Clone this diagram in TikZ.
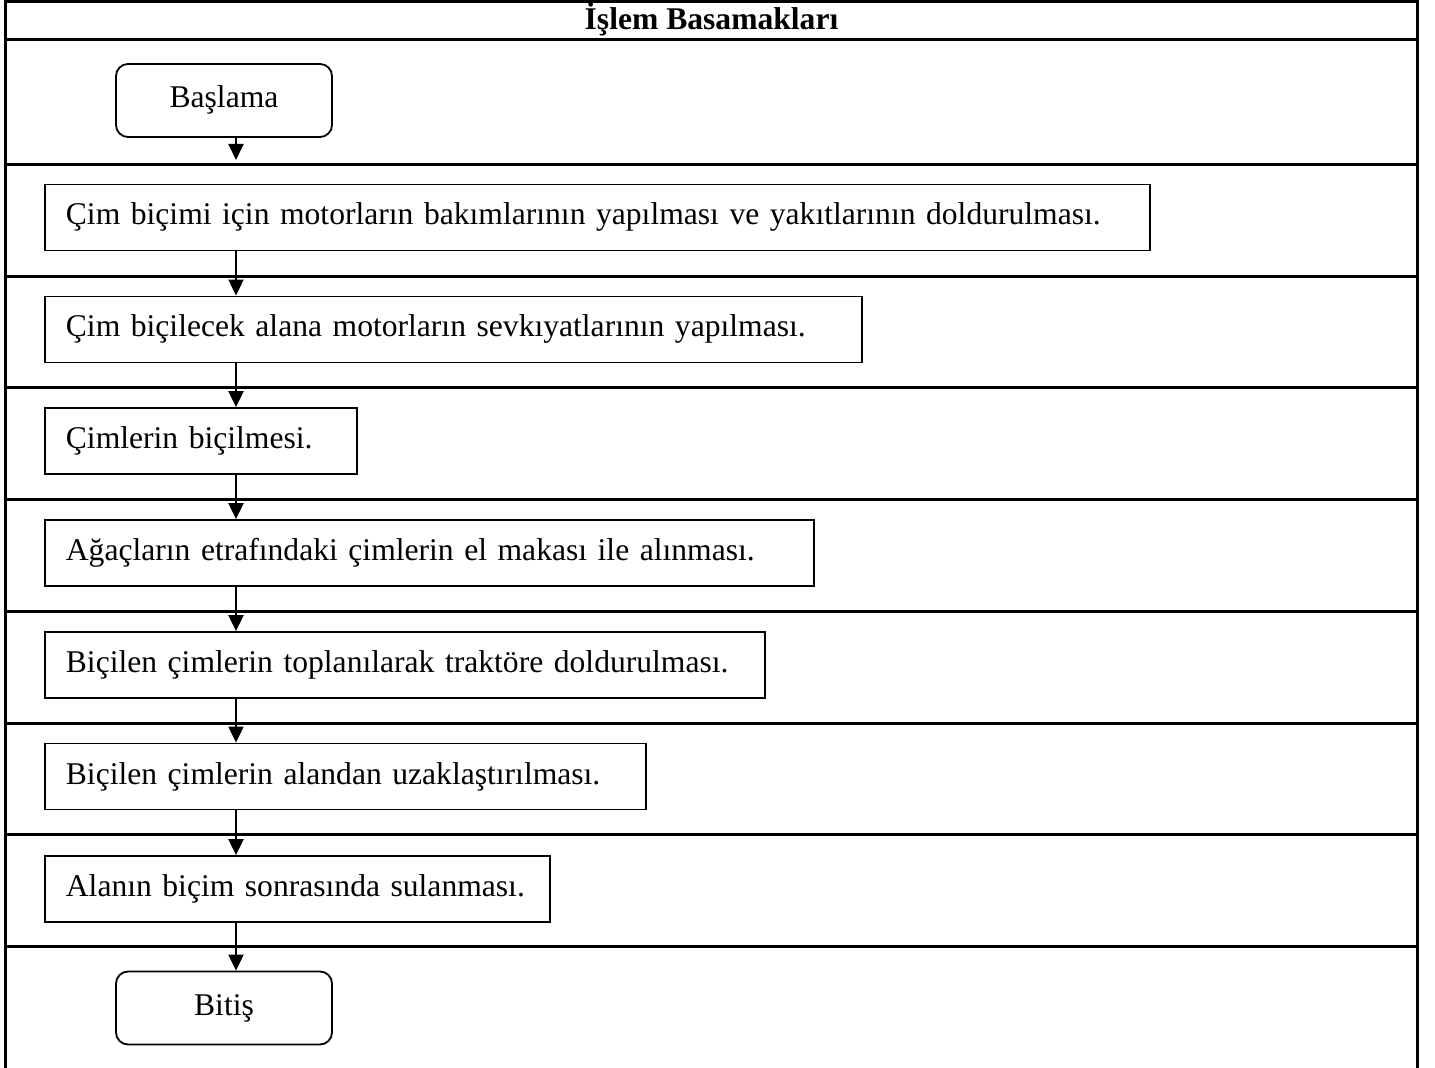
\documentclass[tikz,border=0pt]{standalone}
\usepackage{fontspec}
\setmainfont{Liberation Serif}
\usetikzlibrary{arrows.meta}
\begin{document}
\begin{tikzpicture}[x=0.5pt,y=-0.5pt,
  frameline/.style={line width=1.5pt},
  stepbox/.style={draw, line width=0.9pt, anchor=west, minimum height=33pt,
    inner xsep=10.5pt, inner ysep=0pt, align=left,
    text height=10.9pt, text depth=3.4pt,
    font=\fontsize{15.8}{19}\selectfont},
  termbox/.style={draw, line width=0.9pt, rounded corners=6pt, minimum width=108pt,
    minimum height=36.5pt, inner sep=0pt, text height=10.9pt, text depth=3.4pt,
    font=\fontsize{15.8}{19}\selectfont},
  arr/.style={line width=1pt, -{Triangle[width=7.5pt,length=8pt]}}]
\useasboundingbox (0,0) rectangle (1435,1068);
% frame
\draw[frameline] (5.3,1068) -- (5.3,1.5) -- (1417.7,1.5) -- (1417.7,1068);
\foreach \yy in {40,164.5,276.3,388,499.7,611.4,723.1,834.8,946.5}
  \draw[frameline] (5.3,\yy) -- (1417.7,\yy);
\node[font=\fontsize{15.8}{19}\selectfont\bfseries, text height=10.9pt, text depth=3.4pt, inner sep=0pt]
  (head) at (711.5,22.5) {İşlem Basamakları};
% arrow x
\coordinate (ax) at (236,0);
\node[termbox] (start) at (224,100.5) {Başlama};
\node[stepbox, minimum width=552.5pt, text width=531.5pt] (b1) at (44,217.5)
  {\mbox{Çim biçimi için motorların bakımlarının yapılması ve yakıtlarının doldurulması.}};
\node[stepbox, minimum width=408.5pt, text width=387.5pt] (b2) at (44,329.5)
  {\mbox{Çim biçilecek alana motorların sevkıyatlarının yapılması.}};
\node[stepbox, minimum width=156pt, text width=135pt] (b3) at (44,441)
  {\mbox{Çimlerin biçilmesi.}};
\node[stepbox, minimum width=384.5pt, text width=363.5pt] (b4) at (44,553)
  {\mbox{Ağaçların etrafındaki çimlerin el makası ile alınması.}};
\node[stepbox, minimum width=360pt, text width=339pt] (b5) at (44,665)
  {\mbox{Biçilen çimlerin toplanılarak traktöre doldurulması.}};
\node[stepbox, minimum width=300.5pt, text width=279.5pt] (b6) at (44,776.5)
  {\mbox{Biçilen çimlerin alandan uzaklaştırılması.}};
\node[stepbox, minimum width=252.5pt, text width=231.5pt] (b7) at (44,889)
  {\mbox{Alanın biçim sonrasında sulanması.}};
\node[termbox] (end) at (224,1008) {Bitiş};
\coordinate (a0end) at (236,160);
\draw[arr] (start.south -| ax) -- (a0end);
\draw[arr] (b1.south -| ax) -- (b2.north -| ax);
\draw[arr] (b2.south -| ax) -- (b3.north -| ax);
\draw[arr] (b3.south -| ax) -- (b4.north -| ax);
\draw[arr] (b4.south -| ax) -- (b5.north -| ax);
\draw[arr] (b5.south -| ax) -- (b6.north -| ax);
\draw[arr] (b6.south -| ax) -- (b7.north -| ax);
\draw[arr] (b7.south -| ax) -- (end.north -| ax);
\end{tikzpicture}
\end{document}
